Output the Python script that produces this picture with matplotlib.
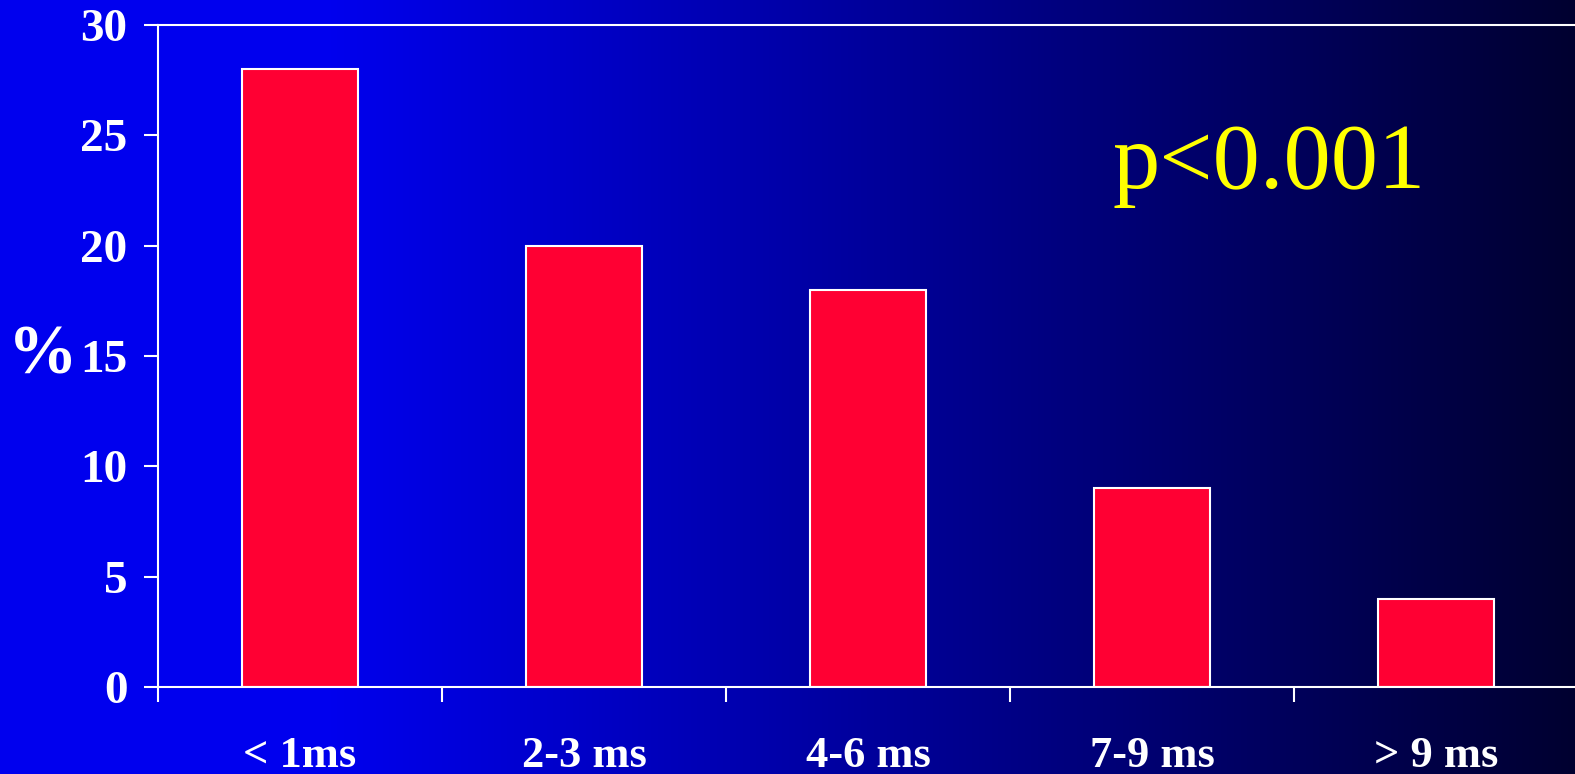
import numpy as np
import matplotlib
matplotlib.use("Agg")
import matplotlib.pyplot as plt

# Porcentagem por faixa de tempo
categorias = ["< 1ms", "2-3 ms", "4-6 ms", "7-9 ms", "> 9 ms"]
porcentagens = [28, 20, 18, 9, 4]
ticks_y = [0, 5, 10, 15, 20, 25, 30]
texto_p = "p<0.001"

LARGURA, ALTURA = 1575, 774
fig = plt.figure(figsize=(LARGURA / 100, ALTURA / 100), dpi=100)

# Fundo em degradê horizontal: azul vivo à esquerda até azul-marinho escuro à direita
eixo_fundo = fig.add_axes([0, 0, 1, 1], zorder=0)
xs = np.arange(LARGURA)
azul = np.interp(xs, [0, 330, LARGURA - 1], [238, 238, 48]) / 255.0
zeros = np.zeros_like(azul)
faixa = np.stack([zeros, zeros, azul], axis=-1)[np.newaxis, :, :]
eixo_fundo.imshow(faixa, aspect="auto", extent=[0, 1, 0, 1])
eixo_fundo.axis("off")

# Eixo principal do gráfico de barras (a borda direita fica fora da figura)
ax = fig.add_axes([158 / LARGURA, 1 - 687 / ALTURA, (1578 - 158) / LARGURA, (687 - 25) / ALTURA], zorder=1)
ax.patch.set_alpha(0)

posicoes = np.arange(len(categorias))
ax.bar(posicoes, porcentagens, width=0.41, color="#FF0033", edgecolor="white", linewidth=1.5, zorder=2)

ax.set_xlim(-0.5, len(categorias) - 0.5)
ax.set_ylim(0, 30)

for lado in ["left", "bottom", "top"]:
    ax.spines[lado].set_color("white")
    ax.spines[lado].set_linewidth(1.5)
ax.spines["right"].set_visible(False)

fonte_y = {"family": "Liberation Serif", "weight": "bold", "size": 34}
fonte_x = {"family": "Liberation Serif", "weight": "bold", "size": 32}

ax.set_yticks(ticks_y)
ax.set_yticklabels([str(t) for t in ticks_y], fontdict=fonte_y, color="white")
ax.tick_params(axis="y", direction="out", length=10, width=1.5, color="white", pad=12)

# rótulos no centro das categorias, marcas nas divisões
ax.set_xticks(posicoes)
ax.set_xticklabels(categorias, fontdict=fonte_x, color="white")
ax.tick_params(axis="x", which="major", length=0, pad=35)
ax.set_xticks(np.arange(len(categorias)) - 0.5, minor=True)
ax.tick_params(axis="x", which="minor", direction="out", length=11, width=1.5, color="white")

fig.text(43 / LARGURA, 1 - 357 / ALTURA, "%", ha="center", va="center",
         family="Liberation Serif", weight="bold", size=50, color="white")

fig.text(1112 / LARGURA, 1 - 188 / ALTURA, texto_p, ha="left", va="baseline",
         family="Liberation Serif", size=68, color="#FFFF00")

fig.savefig("out.png", dpi=100)
